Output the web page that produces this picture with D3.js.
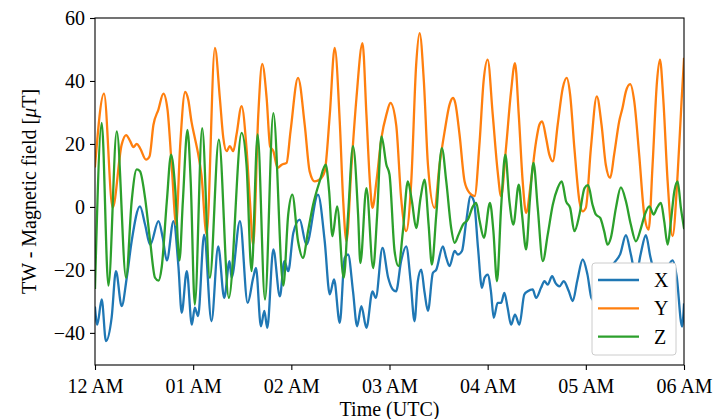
<!DOCTYPE html>
<html>
<head>
<meta charset="utf-8">
<script src="https://cdn.jsdelivr.net/npm/d3@7"></script>
<style>
  html, body { margin: 0; padding: 0; background: #fff; }
  svg { display: block; }
  svg text { font-family: 'Liberation Serif', 'DejaVu Serif', serif !important; fill: #000; }
</style>
</head>
<body>
<div id="chart"></div>
<script>
// Time in minutes after 12 AM (UTC), value in µT
const seriesNames = ["X", "Y", "Z"];
const seriesColors = ["#1f77b4", "#ff7f0e", "#2ca02c"];
const xTickValues = [0, 60, 120, 180, 240, 300, 360];
const xTickLabels = ["12 AM", "01 AM", "02 AM", "03 AM", "04 AM", "05 AM", "06 AM"];
const yTickValues = [-40, -20, 0, 20, 40, 60];

const seriesX = [
  [0,-32],[1.4,-37.4],[4.1,-29.4],[6.7,-42.6],[10.2,-35],[12.8,-20.4],[16.3,-31.5],[19.4,-22.5],[22.4,-10.9],[27.5,0.2],
  [30.6,-5.6],[33.7,-12],[38.8,-4.5],[41.4,-9.8],[43.9,-17],[48,-4.5],[51,-19],[53,-33.6],[56.1,-20.4],[59.2,-37.4],
  [61,-32],[63,-34.7],[66.7,-8.8],[71.2,-36.3],[75.3,-12.5],[79,-28.9],[82.2,-17.2],[83.5,-22.5],[88.6,-4.5],[93.3,-30.5],
  [96.7,-22.5],[98.4,-19.4],[101.4,-37.9],[103.5,-33],[105.3,-38.4],[109,-13.5],[113,-28.4],[115.7,-17.2],[118.1,-20.4],
  [121.2,-8.3],[125.1,-4],[129.2,-12],[136.3,3.9],[140.4,-10.9],[143.5,-27.8],[146.1,-23],[149.6,-36.8],[152.6,-16.2],
  [154.7,-15.1],[157.7,-26.8],[160.2,-37.9],[162.8,-31.5],[165.9,-38.4],[169.6,-26.8],[171.6,-28.9],[175.7,-13],[179.2,-22.5],
  [182,-26.2],[184,-26.8],[187.1,-17.2],[190.2,-12.5],[192.9,-23.6],[195.3,-36.3],[197.3,-23.6],[199.4,-19.9],[201.4,-27],
  [203.5,-33],[206.5,-21],[208.6,-19.9],[212.6,-12.5],[214.7,-16.2],[216.7,-18.8],[219.8,-14],[221.8,-15.1],[224.3,-14],
  [226.9,-4.5],[229.6,3.4],[231.6,1.8],[234.1,-13],[236.5,-25.7],[238.1,-22.5],[240,-21.5],[242,-26.8],[243.7,-35.2],
  [246.1,-30.5],[248.2,-30.5],[250.2,-27.3],[252.2,-32],[254.3,-37.4],[256.7,-34.2],[259.4,-37.4],[262.4,-27.8],[264.5,-26.8],
  [267.5,-26.2],[269.6,-28.9],[272.6,-25.7],[274.7,-23.6],[276.7,-24.7],[279.4,-22],[281.4,-24.1],[283.9,-25.2],[286.5,-23.6],
  [289.6,-26.8],[292,-29.9],[294.7,-23.6],[298.1,-16.7],[301,-21.5],[303.5,-29],[308,-31],[313,-22],[317,-18],[321,-15],
  [324.5,-9],[327.5,-15],[330.6,-22],[333.5,-15],[336.7,-9],[339.5,-16],[344,-23],[349,-20],[353,-17],[355.5,-22],
  [358.8,-38],[360,-31]
];

const seriesY = [
  [0,12.9],[5.5,36],[10.8,-0.3],[16.3,19.8],[19,22.8],[21.4,21],[23.5,19],[25.5,20],[27.5,18.7],[31.2,15],[33.3,16],
  [35.7,26],[38.8,31],[41.8,36],[44.3,31],[46.9,13],[49.6,-5.6],[52,19],[55.1,36.5],[57,34],[59,27],[61,22],[63,17],
  [65.1,10],[68.2,-8.8],[73.3,50.5],[76.3,34.6],[78.4,22],[80.4,17.7],[82.4,19.3],[84.5,17.7],[86.5,23],[89.6,32],
  [92.6,18.7],[94.7,1.8],[96.7,-12],[99.8,29.3],[102.2,45.4],[104.9,34.6],[107,19.3],[109,17.7],[111.6,12.4],[114.1,13.4],
  [117.1,14],[119.5,24],[124.1,41],[128.2,26],[131.2,11.3],[134.3,8.1],[137.3,8.7],[140.4,11.3],[143.5,29.3],[146.5,50.5],
  [149.6,27],[151.6,2.9],[153.7,-10.9],[156.8,13.4],[159.8,34.6],[163.5,52],[165.9,29.3],[168,8.1],[169.6,-0.3],[172,8.1],
  [175.1,22],[178.1,29.3],[180.6,33],[184.1,26],[187.1,2.9],[190.2,-7.7],[193.3,8.1],[196.3,45.2],[198.4,55.2],[201,39.9],
  [203.5,13.4],[207.5,-0.3],[210.6,13.4],[213.7,24],[216.7,32.5],[218.8,34.6],[220.2,33],[222.8,23],[225.9,8.1],[229,4.4],
  [232,3.4],[235.1,20.8],[237.5,39.9],[240,46.8],[243.1,29.3],[246.1,11.3],[248.2,3.4],[251.2,18.7],[254.3,36.7],
  [256.7,45.7],[259,29.3],[261.4,8.1],[263.5,-1.9],[266.5,8.1],[269.6,20.8],[271.6,26.1],[273.3,27.2],[275.7,21.9],
  [277.7,16.6],[279.8,14.5],[282.8,26.1],[285.9,37.8],[288.3,41],[290.4,35.7],[293,18.7],[296.1,1.8],[298.1,-1.4],
  [300,-0.3],[303.1,18.7],[306.7,35.1],[309.6,26.1],[312.2,13.4],[314.9,9.2],[317.3,16.6],[320.4,27.2],[322.4,31.4],
  [324.5,36.7],[327.1,39],[329.6,33.5],[332.6,16.6],[335.7,-2.4],[338.4,-7.2],[340.8,13.4],[343.5,39.9],[345.3,46.8],
  [347.3,34.6],[350,8.1],[353,-9.3],[356.1,10.3],[358.5,33.5],[360,47]
];

const seriesZ = [
  [0,-25.7],[4.1,26.7],[8.2,-25],[13.3,24],[19,-22.5],[22.4,1.8],[25.5,11.9],[27.5,11.3],[30.6,2.9],[33.7,-10.9],
  [36.7,-22.5],[38.8,-23.4],[40.8,-19],[43.9,1.8],[46.5,16.6],[49,6],[51.6,-17],[53.7,1.8],[56.5,24.5],[58.5,8],[61,-31],
  [65.5,25],[70.2,-22.5],[75.7,21.4],[81.8,-28.9],[89.6,23.5],[92.6,13.4],[95.7,-20.4],[99.4,23],[103.9,-29.4],[109,29.8],
  [115.1,-25],[118.1,-2.4],[120.6,3.9],[124.1,-10.9],[127.1,-16.2],[130.2,-7.7],[133.3,0.7],[137.3,8.1],[141,13.4],
  [143.1,5],[145.1,-9.3],[148,0.2],[152,-22.5],[154.7,-2.4],[157.7,19.3],[160.8,-2.4],[162.2,-17.8],[165.9,6],[170,-19.4],
  [172.4,-3],[175.1,22.4],[178.1,13.4],[180,10.3],[183.1,-14],[185.5,-18.8],[188.2,-7.7],[191.2,8.1],[193.7,1.8],
  [196.3,-6.7],[199,2.9],[201.4,8.7],[203.9,-5.6],[205.9,-18.3],[208.6,-2.4],[212,18.7],[214.7,8.1],[217.7,-6.7],
  [219.8,-11.4],[222.2,-8.8],[224.9,-5.6],[227.9,-4],[231,0.2],[233,1.3],[235.1,-4.5],[237.7,-9.8],[241.4,1.3],
  [243.5,-7.7],[245.7,-23.6],[248.2,-0.3],[250.8,16.6],[253.3,1.8],[255.7,-5.6],[259,7.1],[261,-2.4],[263.5,-13.5],
  [265.9,2.9],[268,14],[270.6,-0.3],[273.7,-17.2],[276.7,-8.8],[279.8,0.7],[282.8,6],[285.3,8.1],[287.9,1.8],[290.4,-0.3],
  [293,-7.7],[296.1,-2.4],[299.2,6],[301.4,6.9],[304.1,0.7],[306.1,-2.4],[308.8,-3.5],[311.2,-7.7],[313.3,-12],
  [315.3,-9.8],[318.4,-0.3],[321.4,6.2],[324.5,1.8],[327.5,-5.6],[330.6,-10.9],[333.7,-6.7],[336.1,-2.4],[338.8,0.2],
  [341.4,-2.4],[343.5,-0.3],[345.9,1.3],[347.9,-4.5],[350,-12],[352,-4.5],[354.1,5],[356.1,8.1],[358.1,-0.3],[360,-6.7]
];

const allSeries = [seriesX, seriesY, seriesZ];

const W = 716, H = 419;
const margin = { left: 95, right: 32, top: 18, bottom: 54 };
const svg = d3.select("#chart").append("svg").attr("width", W).attr("height", H);

const x = d3.scaleLinear().domain([0, 360]).range([margin.left, W - margin.right]);
const y = d3.scaleLinear().domain([-50.2, 60]).range([H - margin.bottom, margin.top]);

const fs = "20px";
const ff = "'Liberation Serif', 'DejaVu Serif', serif";

svg.append("defs").append("clipPath").attr("id", "clip")
  .append("rect").attr("x", x(0)).attr("y", y(60)).attr("width", x(360) - x(0)).attr("height", y(-50.2) - y(60));

const line = d3.line().x(d => x(d[0])).y(d => y(d[1])).curve(d3.curveMonotoneX);

const gLines = svg.append("g").attr("clip-path", "url(#clip)");
allSeries.forEach((s, i) => {
  gLines.append("path").datum(s)
    .attr("d", line)
    .attr("fill", "none")
    .attr("stroke", seriesColors[i])
    .attr("stroke-width", 2.3)
    .attr("stroke-linejoin", "round")
    .attr("stroke-linecap", "square");
});

// axes
const xAxis = d3.axisBottom(x).tickValues(xTickValues).tickFormat((d, i) => xTickLabels[i]).tickSize(5).tickPadding(5);
const yAxis = d3.axisLeft(y).tickValues(yTickValues).tickFormat(d => (d < 0 ? "\u2212" + Math.abs(d) : String(d))).tickSize(5).tickPadding(5);

const gx = svg.append("g").attr("transform", `translate(0,${y(-50.2)})`).call(xAxis);
const gy = svg.append("g").attr("transform", `translate(${x(0)},0)`).call(yAxis);
[gx, gy].forEach(g => {
  g.attr("font-family", null).attr("font-size", null);
  g.select(".domain").remove();
  g.selectAll(".tick line").attr("stroke", "#000").attr("stroke-width", 1.1);
  g.selectAll(".tick text").style("font-size", fs).style("font-family", ff).attr("fill", "#000");
});
gx.selectAll(".tick text").attr("dy", "0.9em");

// frame
svg.append("rect")
  .attr("x", x(0)).attr("y", y(60))
  .attr("width", x(360) - x(0)).attr("height", y(-50.2) - y(60))
  .attr("fill", "none").attr("stroke", "#000").attr("stroke-width", 1.1);

// axis labels
svg.append("text")
  .attr("x", (x(0) + x(360)) / 2).attr("y", 416)
  .attr("text-anchor", "middle").style("font-size", fs).style("font-family", ff)
  .text("Time (UTC)");

const yl = svg.append("text")
  .attr("transform", `translate(36,${(y(60) + y(-50.2)) / 2}) rotate(-90)`)
  .attr("text-anchor", "middle").style("font-size", fs).style("font-family", ff);
yl.append("tspan").text("TW - Magnetic field [");
yl.append("tspan").style("font-style", "italic").text("\u03bc");
yl.append("tspan").text("T]");

// legend
const lg = svg.append("g");
lg.append("rect")
  .attr("x", 592).attr("y", 263).attr("width", 84).attr("height", 92)
  .attr("rx", 3).attr("fill", "#fff").attr("stroke", "#cccccc").attr("stroke-width", 1);
seriesNames.forEach((n, i) => {
  const yy = 280 + i * 28.3;
  lg.append("line").attr("x1", 598).attr("x2", 639).attr("y1", yy).attr("y2", yy)
    .attr("stroke", seriesColors[i]).attr("stroke-width", 2.3);
  lg.append("text").attr("x", 654).attr("y", yy).attr("dy", "0.35em")
    .style("font-size", fs).style("font-family", ff).text(n);
});
</script>
</body>
</html>
